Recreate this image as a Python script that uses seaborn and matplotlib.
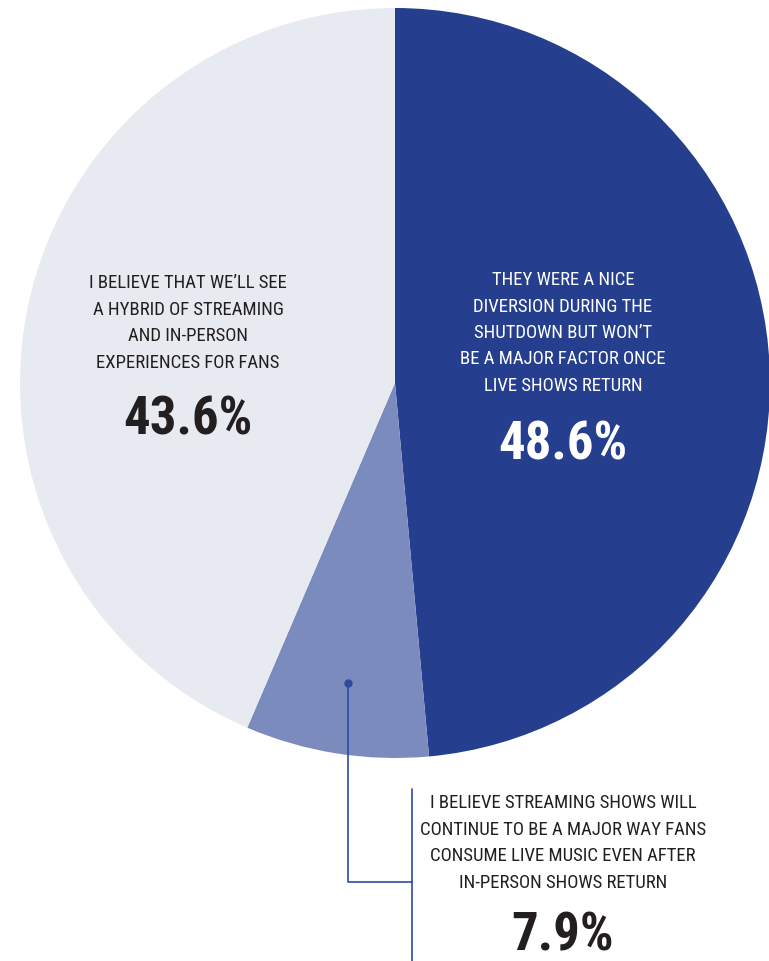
import matplotlib
import matplotlib.pyplot as plt
import seaborn as sns

matplotlib.use('agg')

labels = [
    "THEY WERE A NICE\nDIVERSION DURING THE\nSHUTDOWN BUT WON\u2019T\nBE A MAJOR FACTOR ONCE\nLIVE SHOWS RETURN",
    "I BELIEVE STREAMING SHOWS WILL\nCONTINUE TO BE A MAJOR WAY FANS\nCONSUME LIVE MUSIC EVEN AFTER\nIN-PERSON SHOWS RETURN",
    "I BELIEVE THAT WE\u2019LL SEE\nA HYBRID OF STREAMING\nAND IN-PERSON\nEXPERIENCES FOR FANS",
]
shares = [48.6, 7.9, 43.6]
colors = ["#253F8E", "#7B8BBE", "#E8EAF2"]
text_colors = ["white", "#231F20", "#231F20"]

sns.set_theme(style="white")
plt.rcParams['font.family'] = ['Roboto Condensed', 'Open Sans Condensed',
                               'DejaVu Sans Condensed', 'Roboto', 'DejaVu Sans']

W, H = 769, 961
fig = plt.figure(figsize=(W / 100, H / 100), dpi=100)
ax = fig.add_axes([0, 0, 1, 1])

ax.pie(shares, colors=colors, startangle=90, counterclock=False,
       center=(395, H - 383), radius=375, frame=True,
       wedgeprops=dict(linewidth=0))
ax.set_xlim(0, W)
ax.set_ylim(0, H)
ax.set_aspect('equal')
ax.axis('off')

# label anchors (pixel coords, y from top): text block centre, percent centre
spots = [(563, 333, 445), (563, 843, 936), (188, 323, 420)]
for lab, val, tc, (x, ty, py) in zip(labels, shares, text_colors, spots):
    ax.text(x, H - ty, lab, ha='center', va='center', color=tc,
            fontsize=13.5, linespacing=1.6)
    ax.text(x, H - py, f"{val}%", ha='center', va='center', color=tc,
            fontsize=38, fontweight='bold')

# leader line for the small slice
line_c = "#2E4BA0"
ax.plot([348, 348, 412], [H - 683, H - 882, H - 882], color=line_c, lw=1.2)
ax.plot([412, 412], [H - 789, H - 961], color=line_c, lw=1.2)
ax.plot([348], [H - 683], 'o', color=line_c, ms=5)

fig.savefig("out.png", dpi=100)
